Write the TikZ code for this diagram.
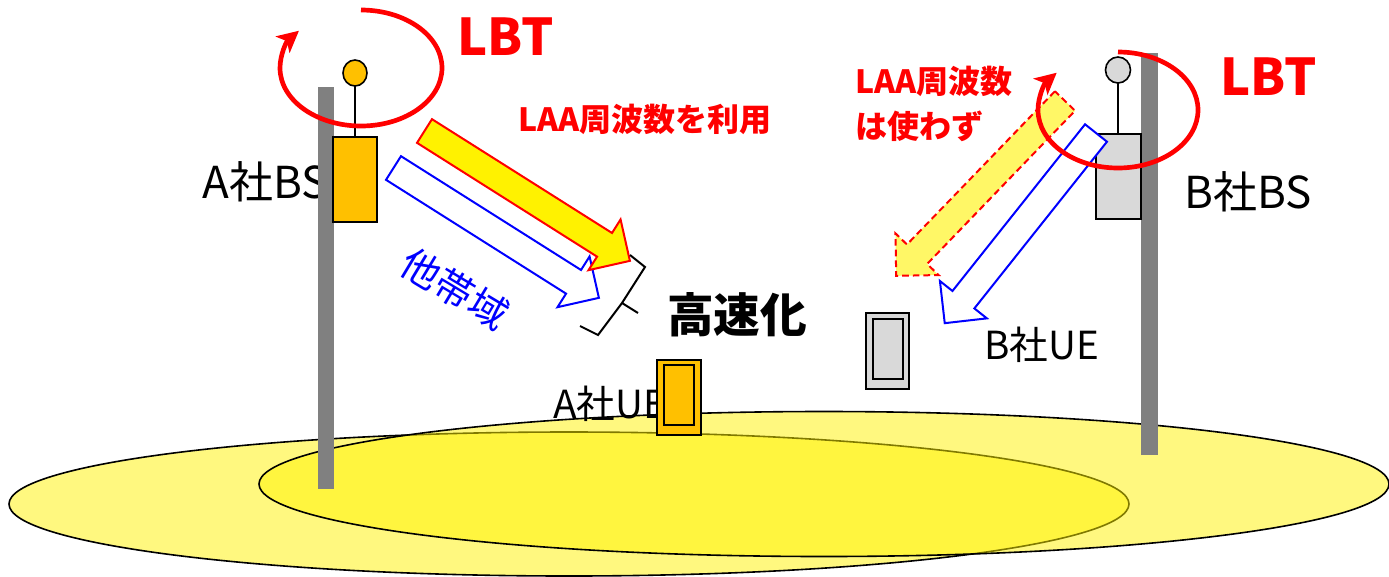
\documentclass[tikz,border=0pt]{standalone}
\usepackage{fontspec}
\newfontfamily\jp{Noto Sans CJK JP}
\usepackage{tikz}
\usetikzlibrary{positioning,arrows.meta}

\definecolor{bsorange}{HTML}{FFC000}
\definecolor{bsgray}{HTML}{D9D9D9}
\definecolor{polegray}{HTML}{808080}

% wide block arrow, tail at #2, turned by #3
\newcommand{\bandarrow}[3]{%
  \draw[#1, shift={#2}, rotate=#3]
    (0,-14) -- (213,-14) -- (213,-30) -- (243,0) -- (213,30) -- (213,14) -- (0,14) -- cycle;}

\begin{document}
\begin{tikzpicture}[x=0.75pt, y=0.75pt]
    \tikzset{pole/.style = {fill=polegray, draw=none},
             bsbox/.style = {draw, line width=1.2pt},
             cell/.style = {draw, line width=1.2pt, fill=yellow, fill opacity=0.5, draw opacity=1},
             ring/.style = {red, line width=3.5pt, -{Stealth[length=16pt, width=16pt, inset=4pt]}},
             jptext/.style = {inner sep=0pt, font=\jp\fontsize{33}{38}\selectfont},
             uetext/.style = {inner sep=0pt, font=\jp\fontsize{29}{34}\selectfont},
             redtext/.style = {inner sep=0pt, text=red, font=\jp\bfseries\fontsize{24}{30}\selectfont}}
    \useasboundingbox (0,0) rectangle (1389,-576);

    % cells
    \draw[cell] (569,-504) ellipse [x radius=560, y radius=72];
    \draw[cell] (824,-484) ellipse [x radius=565, y radius=72.5];

    % base stations
    \node[jptext, anchor=base west] (aBS) at (202,-198) {A社BS};
    \node[jptext, anchor=base west] (bBS) at (1184,-208) {B社BS};
    \fill[pole] (318,-87) rectangle (334,-489);
    \fill[pole] (1141,-53) rectangle (1158,-455);
    \draw[line width=1.2pt] (355,-86) -- (355,-137);
    \draw[bsbox, fill=bsorange] (355,-73) ellipse [x radius=12, y radius=13];
    \draw[bsbox, fill=bsorange] (333,-137) rectangle (377,-222);
    \draw[line width=1.2pt] (1118,-83) -- (1118,-134);
    \draw[bsbox, fill=bsgray] (1118,-70) ellipse [x radius=12.5, y radius=13];
    \draw[bsbox, fill=bsgray] (1096,-134) rectangle (1141,-219);

    % terminals
    \node[uetext, anchor=base west] (aUE) at (553,-418) {A社UE};
    \node[uetext, anchor=base west] (bUE) at (984,-359) {B社UE};
    \draw[bsbox, fill=bsorange] (657,-360) rectangle (701,-435);
    \draw[bsbox, fill=bsorange] (664,-365) rectangle (694,-425);
    \draw[bsbox, fill=bsgray] (866,-313) rectangle (909,-389);
    \draw[bsbox, fill=bsgray] (873,-319) rectangle (903,-379);

    % carriers
    \bandarrow{blue, line width=1.5pt, fill=white}{(393.5,-168)}{-32.3}
    \bandarrow{red, line width=1.5pt, fill=yellow}{(424.5,-131)}{-32.3}
    \bandarrow{blue, line width=1.5pt, fill=white}{(1096,-133)}{-128.5}
    \bandarrow{red, line width=1.5pt, dash pattern=on 5pt off 3pt, fill=yellow!60}{(1065,-101)}{-134}

    \draw[line width=1.5pt] (630,-255) -- (645,-267) -- (622,-303) -- (598,-335) -- (580,-326)
        (622,-303) -- (638,-313);

    \node[redtext, anchor=base west] (useLAA) at (518,-131) {LAA周波数を利用};
    \node[redtext, anchor=base west] (noLAA) at (855,-93) {LAA周波数};
    \node[redtext, anchor=base west] (noLAA2) at (855,-138) {は使わず};
    \node[uetext, text=blue, rotate=-31] (other) at (455,-289) {他帯域};
    \node[inner sep=0pt, anchor=base west, font=\jp\bfseries\fontsize{35}{40}\selectfont] (fast) at (667,-332) {高速化};

    % listen before talk
    \draw[ring] (361,-10) arc [start angle=90, end angle=-220, x radius=81, y radius=58];
    \draw[ring] (1118,-52) arc [start angle=90, end angle=-220, x radius=80, y radius=58];
    \node[redtext, anchor=base west, font=\jp\bfseries\fontsize{38}{44}\selectfont] (lbtA) at (457,-55) {LBT};
    \node[redtext, anchor=base west, font=\jp\bfseries\fontsize{38}{44}\selectfont] (lbtB) at (1220,-95) {LBT};
\end{tikzpicture}
\end{document}
